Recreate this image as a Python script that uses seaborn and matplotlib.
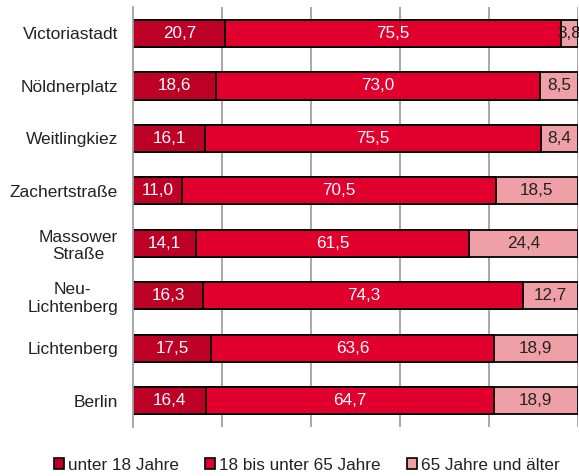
import pandas as pd
import numpy as np
import seaborn as sns
import matplotlib.pyplot as plt
from matplotlib.patches import Patch

# -----------------------------
# DATA
# -----------------------------

areas = ["Victoriastadt", "Nöldnerplatz", "Weitlingkiez", "Zachertstraße",
         "Massower\nStraße", "Neu-\nLichtenberg", "Lichtenberg", "Berlin"]
under_18 = [20.7, 18.6, 16.1, 11.0, 14.1, 16.3, 17.5, 16.4]
age_18_65 = [75.5, 73.0, 75.5, 70.5, 61.5, 74.3, 63.6, 64.7]
over_65 = [3.8, 8.5, 8.4, 18.5, 24.4, 12.7, 18.9, 18.9]
group_names = ["unter 18 Jahre", "18 bis unter 65 Jahre", "65 Jahre und älter"]
colors = ["#BD0026", "#E1002D", "#EFA0A6"]

df = pd.DataFrame({"area": areas, "u18": under_18, "mid": age_18_65, "o65": over_65})

# 100% stacked: normalise each row by its total
total = df[["u18", "mid", "o65"]].sum(axis=1)
df["p1"] = df["u18"] / total * 100
df["p2"] = df["mid"] / total * 100
df["p3"] = df["o65"] / total * 100
df["c1"] = df["p1"]
df["c2"] = df["p1"] + df["p2"]
df["c3"] = df["c2"] + df["p3"]

# -----------------------------
# PLOT
# -----------------------------

sns.set_theme(style="white")
plt.rcParams["font.family"] = ["Liberation Sans", "DejaVu Sans"]

fig = plt.figure(figsize=(5.79, 4.76), dpi=100)
ax = fig.add_axes([0.2302, 0.103, 0.768, 0.882])

ax.set_axisbelow(True)
for xv in [20, 40, 60, 80, 100]:
    ax.axvline(xv, color="#A0A0A0", lw=1.3, zorder=0)

# draw cumulative bars, longest first
for col, c in zip(["c3", "c2", "c1"], colors[::-1]):
    sns.barplot(data=df, x=col, y="area", order=areas, orient="h",
                color=c, saturation=1, width=0.52, edgecolor="black",
                linewidth=1.3, errorbar=None, ax=ax, zorder=2)

# value labels
for i, row in df.iterrows():
    ax.text(row["p1"] / 2, i, f"{row['u18']:.1f}".replace(".", ","),
            ha="center", va="center", color="white", fontsize=12.3, zorder=5)
    ax.text(row["p1"] + row["p2"] / 2, i, f"{row['mid']:.1f}".replace(".", ","),
            ha="center", va="center", color="white", fontsize=12.3, zorder=5)
    ax.text(row["c2"] + row["p3"] / 2, i, f"{row['o65']:.1f}".replace(".", ","),
            ha="center", va="center", color="#222222", fontsize=12.3, zorder=5,
            clip_on=False)

ax.set_xlim(0, 100)
ax.set_ylim(7.5, -0.5)
ax.set_xlabel("")
ax.set_ylabel("")
ax.set_xticks([])
ax.tick_params(axis="y", length=0, pad=11, labelsize=12.5, labelcolor="#222222")
for lab in ax.get_yticklabels():
    lab.set_multialignment("center")

for s in ["top", "right", "bottom"]:
    ax.spines[s].set_visible(False)
ax.spines["left"].set_color("#A0A0A0")
ax.spines["left"].set_linewidth(1.3)

handles = [Patch(facecolor=c, edgecolor="black", linewidth=1.2) for c in colors]
fig.legend(handles, group_names, loc="center", bbox_to_anchor=(0.53, 0.023),
           ncol=3, frameon=False, fontsize=12.3, handlelength=0.6,
           handleheight=0.6, handletextpad=0.25, columnspacing=1.5,
           labelcolor="#222222")

plt.savefig("out.png", dpi=100)
